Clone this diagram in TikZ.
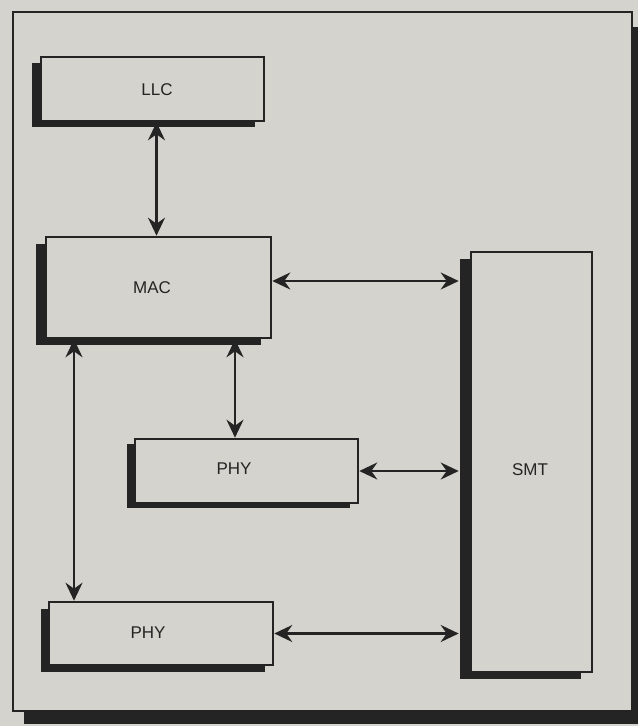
\documentclass[tikz,border=0pt]{standalone}
\usepackage{fontspec}
\setmainfont{Liberation Sans}
\usetikzlibrary{arrows.meta,shadows}
\definecolor{paper}{RGB}{212,211,205}
\definecolor{ink}{RGB}{36,36,36}
\begin{document}
\begin{tikzpicture}[x=1pt,y=-1pt,
  blk/.style={draw=ink, line width=2.6pt, fill=paper, inner sep=0pt},
  lbl/.style={font=\fontsize{17}{20}\selectfont, text=ink},
  shd/.style 2 args={drop shadow={shadow xshift=#1pt, shadow yshift=#2pt, fill=ink, opacity=1}},
  tip/.tip={Stealth[length=18pt,width=17pt,inset=6pt]},
  arr/.style={tip-tip, line width=2.5pt, draw=ink}]
  % page and outer frame
  \fill[paper] (0,0) rectangle (638,726);
  \useasboundingbox (0,0) rectangle (638,726);
  \fill[ink] (24,711) rectangle (638,724);
  \fill[ink] (631,27) rectangle (638,724);
  \draw[ink, line width=2.6pt, fill=paper] (13,12) rectangle (632,711);
  % blocks
  \node[blk, shd={-9}{-6}, minimum width=223pt, minimum height=64pt] (LLC) at (152.5,89) {};
  \node[blk, shd={-10}{-7}, minimum width=225pt, minimum height=101pt] (MAC) at (158.5,287.5) {};
  \node[blk, shd={-8}{-5}, minimum width=223pt, minimum height=64pt] (PHYa) at (246.5,471) {};
  \node[blk, shd={-8}{-7}, minimum width=224pt, minimum height=63pt] (PHYb) at (161,633.5) {};
  \node[blk, shd={-11}{-7}, minimum width=121pt, minimum height=420pt] (SMT) at (531.5,462) {};
  % labels
  \node[lbl] (tLLC) at (157,90) {LLC};
  \node[lbl] (tMAC) at (152,288) {MAC};
  \node[lbl] (tPHYa) at (234,469) {PHY};
  \node[lbl] (tPHYb) at (148,633) {PHY};
  \node[lbl] (tSMT) at (530,470) {SMT};
  % helper coordinates
  \coordinate (smtedge) at ([xshift=-11pt]SMT.west);
  \coordinate (a1) at ([xshift=4pt]LLC.south);
  \coordinate (a2) at ([yshift=6.5pt]MAC.east);
  \coordinate (a3) at ([xshift=-11.5pt]PHYa.north);
  \coordinate (a4) at ([xshift=-87pt]PHYb.north);
  % connectors
  \draw[arr] (a1) -- (a1 |- MAC.north);
  \draw[arr] (a2) -- (a2 -| smtedge);
  \draw[arr] (a3 |- MAC.south) -- (a3);
  \draw[arr] (a4 |- MAC.south) -- (a4);
  \draw[arr] (PHYa.east) -- (PHYa.east -| smtedge);
  \draw[arr] (PHYb.east) -- (PHYb.east -| smtedge);
\end{tikzpicture}
\end{document}
